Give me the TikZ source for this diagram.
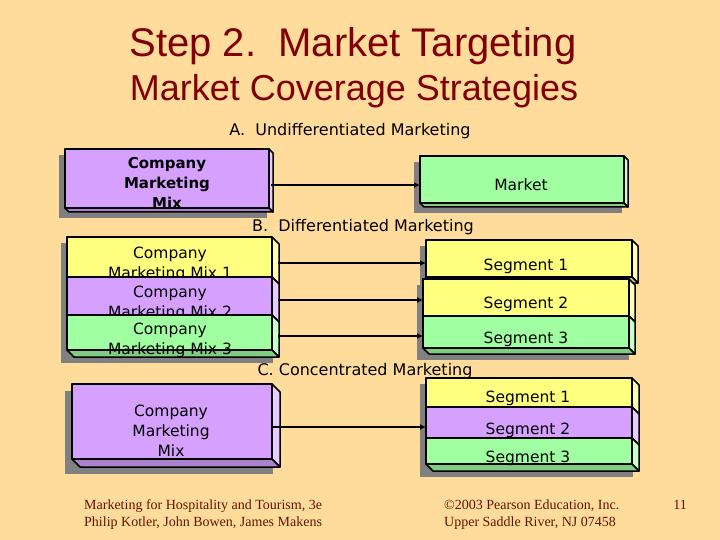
\documentclass[tikz,border=0pt]{standalone}
\usepackage{fontspec}
\setmainfont{DejaVu Sans}
\newfontfamily\arialf{Liberation Sans}
\newfontfamily\timesf{Liberation Serif}
\usetikzlibrary{arrows.meta,calc}
\definecolor{bg}{RGB}{255,219,156}
\definecolor{titlec}{RGB}{128,0,0}
\definecolor{footc}{RGB}{100,20,0}
\definecolor{purp}{RGB}{214,160,255}
\definecolor{yel}{RGB}{255,255,128}
\definecolor{grn}{RGB}{160,255,160}
\definecolor{shad}{RGB}{128,128,128}
\newcommand\tdbox[8]{%
  \fill[shad] ({#2-#8},{#3+#8}) rectangle ({#4+#6-#8},{#5+#6+#8});
  \filldraw[boxline, fill=#7!55!white] (#4,#3) -- ({#4+#6},{#3+#6}) -- ({#4+#6},{#5+#6}) -- (#4,#5) -- cycle;
  \filldraw[boxline, fill=#7!80!black] (#2,#5) -- (#4,#5) -- ({#4+#6},{#5+#6}) -- ({#2+#6},{#5+#6}) -- cycle;
  \node[boxline, draw, fill=#7, inner sep=0pt, outer sep=0pt, minimum width={(#4-#2)*1pt}, minimum height={(#5-#3)*1pt}] (#1) at ({(#2+#4)/2},{(#3+#5)/2}) {};
}
\tikzset{
  boxline/.style={line width=1.5pt, line join=round},
  txt/.style={align=center, inner sep=0pt, font=\fontsize{15.5}{20}\selectfont},
  txtb/.style={align=center, inner sep=0pt, font=\bfseries\fontsize{15}{20}\selectfont},
  lbl/.style={inner sep=0pt, font=\fontsize{16}{18}\selectfont},
  arr/.style={line width=2pt, -{Latex[length=6pt,width=6pt]}},
  foot/.style={inner sep=0pt, anchor=base west, text=footc, font=\timesf\fontsize{14}{17}\selectfont}
}
\begin{document}
\begin{tikzpicture}[x=1pt,y=-1pt]
\useasboundingbox (0,0) rectangle (720,540);
\fill[bg] (0,0) rectangle (720,540);
% titles
\node[anchor=base, inner sep=0pt, text=titlec, font=\arialf\fontsize{40}{48}\selectfont] (title) at (353,57) {Step 2.~~Market Targeting};
\node[anchor=base, inner sep=0pt, text=titlec, font=\arialf\fontsize{36}{44}\selectfont] (subtitle) at (354,101) {Market Coverage Strategies};
% A
\node[lbl] (la) at (350,131) {A.~~Undifferentiated Marketing};
\tdbox{amix}{65}{149}{269}{208}{4}{purp}{6}
\node[txtb] (amixt) at (167,183) {Company\\Marketing\\Mix};
\tdbox{market}{420}{156}{624}{203}{4}{grn}{6}
\node[txt] (markett) at (521,185) {Market};
\draw[arr] ($(amix.east)+(2,6.5)$) -- ($(market.west)+(0,5.5)$);
% B
\node[lbl] (lb) at (363,227) {B.~~Differentiated Marketing};
\tdbox{b1}{67}{237}{272}{277}{7}{yel}{6}
\node[txt] (b1t) at (170,264) {Company\\Marketing Mix 1};
\tdbox{b2}{67}{277}{272}{315}{7}{purp}{6}
\node[txt] (b2t) at (170,303) {Company\\Marketing Mix 2};
\tdbox{b3}{67}{315}{272}{350}{7}{grn}{6}
\node[txt] (b3t) at (170,340) {Company\\Marketing Mix 3};
\tdbox{s1}{426}{240}{632}{277}{6}{yel}{6}
\node[txt] (s1t) at (526,266) {Segment 1};
\tdbox{s2}{423}{279}{629}{316}{6}{yel}{6}
\node[txt] (s2t) at (526,304) {Segment 2};
\tdbox{s3}{423}{316}{629}{348}{6}{grn}{6}
\node[txt] (s3t) at (526,339) {Segment 3};
\draw[arr] ($(b1.east)+(6,6)$) -- ($(s1.west)+(0,4.5)$);
\draw[arr] ($(b2.east)+(6,4)$) -- ($(s2.west)+(0,2.5)$);
\draw[arr] ($(b3.east)+(6,3.5)$) -- ($(s3.west)+(0,4)$);
% C
\node[lbl] (lc) at (365,371) {C. Concentrated Marketing};
\tdbox{cmix}{72}{384}{272}{459}{8}{purp}{7}
\node[txt] (cmixt) at (171,431) {Company\\Marketing\\Mix};
\tdbox{c1}{426}{378}{632}{407}{7}{yel}{6}
\node[txt] (c1t) at (528,398) {Segment 1};
\tdbox{c2}{426}{407}{632}{438}{7}{purp}{6}
\node[txt] (c2t) at (528,430) {Segment 2};
\tdbox{c3}{426}{438}{632}{464}{7}{grn}{6}
\node[txt] (c3t) at (528,458) {Segment 3};
\draw[arr] ($(cmix.east)+(0,5.5)$) -- ($(c2.west)+(0,4.5)$);
% footer
\node[foot] (f1) at (84,509) {Marketing for Hospitality and Tourism, 3e};
\node[foot] (f2) at (84,526) {Philip Kotler, John Bowen, James Makens};
\node[foot] (f3) at (444,509) {\textcopyright2003 Pearson Education, Inc.};
\node[foot] (f4) at (444,526) {Upper Saddle River, NJ 07458};
\node[foot, anchor=base] (f5) at (680,509) {11};
\end{tikzpicture}
\end{document}
